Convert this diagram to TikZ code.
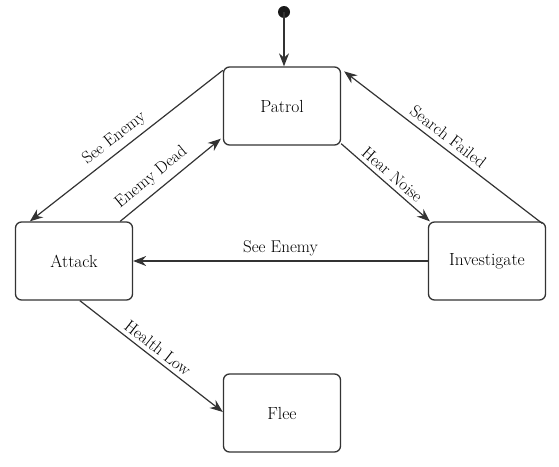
\documentclass[tikz,border=0pt]{standalone}
\usetikzlibrary{arrows.meta,calc}
\begin{document}
\begin{tikzpicture}[x=1pt,y=-1pt,
  state/.style={draw=black!80,line width=1.3pt,rounded corners=6pt,minimum width=117pt,minimum height=78pt,font=\fontsize{17.5}{20}\selectfont},
  arr/.style={draw=black!80,line width=1.2pt,-{Stealth[length=13pt,width=10pt]}},
  rarr/.style={draw=black!80,line width=1.2pt,{Stealth[length=13pt,width=10pt]}-},
  lbl/.style={sloped,above,inner sep=4pt,font=\fontsize{17}{20}\selectfont}]
\useasboundingbox (0,0) rectangle (559,466);
\node[state] (patrol) at (282,106) {Patrol};
\node[state] (attack) at (74,261) {Attack};
\node[state] (invest) at (487,261) {Investigate};
\node[state] (flee) at (282,413) {Flee};
\fill[black!90] (284,12) circle (6pt);
\coordinate (init) at (284,12);
\draw[arr] (init) -- (patrol.north -| init);
\draw[rarr] ($(attack.north west)+(15,0)$) -- node[lbl,pos=0.48,inner sep=5pt] {See Enemy} ($(patrol.north west)+(0,4)$);
\draw[arr] ($(attack.north east)+(-13,0)$) -- node[lbl,pos=0.4,inner sep=6pt] {Enemy Dead} ($(patrol.south west)+(-2,-7)$);
\draw[arr] ($(patrol.south east)+(0,-2)$) -- node[lbl,pos=0.5] {Hear Noise} ($(invest.north west)+(2,0)$);
\draw[rarr] ($(patrol.north east)+(3,5)$) -- node[lbl,pos=0.49,inner sep=5pt] {Search Failed} ($(invest.north east)+(-4,2)$);
\draw[rarr] (attack.east) -- node[lbl,pos=0.5] {See Enemy} (invest.west);
\draw[arr] ($(attack.south west)+(65,0)$) -- node[lbl,pos=0.5] {Health Low} ($(flee.west)+(0,-1)$);
\end{tikzpicture}
\end{document}
